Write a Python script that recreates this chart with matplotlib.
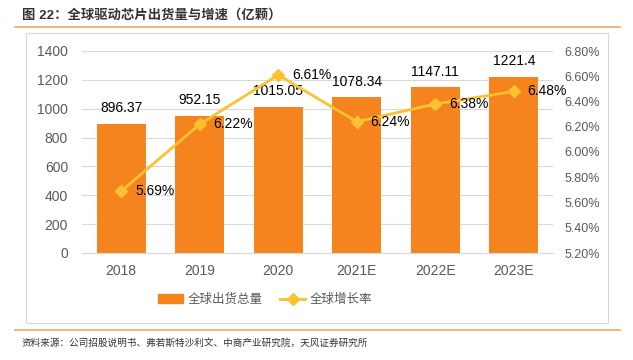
import matplotlib
matplotlib.use("Agg")
import matplotlib.pyplot as plt
from matplotlib.patches import Rectangle
from matplotlib.lines import Line2D

plt.rcParams['font.family'] = ['Liberation Sans', 'Noto Sans CJK SC', 'DejaVu Sans']

categories = ["2018", "2019", "2020", "2021E", "2022E", "2023E"]
shipments = [896.37, 952.15, 1015.05, 1078.34, 1147.11, 1221.4]
shipment_labels = ["896.37", "952.15", "1015.05", "1078.34", "1147.11", "1221.4"]
growth = [5.69, 6.22, 6.61, 6.24, 6.38, 6.48]
left_ticks = [0, 200, 400, 600, 800, 1000, 1200, 1400]
right_ticks = [5.2, 5.4, 5.6, 5.8, 6.0, 6.2, 6.4, 6.6, 6.8]

title = "图 22：全球驱动芯片出货量与增速（亿颗）"
source = "资料来源：公司招股说明书、弗若斯特沙利文、中商产业研究院，天风证券研究所"
bar_name = "全球出货总量"
line_name = "全球增长率"

BAR_C = "#F5841F"
LINE_C = "#FBC12F"
GRAY = "#595959"

fig = plt.figure(figsize=(6.33, 3.6), dpi=100)

# title & decorations
fig.text(22/633, 1-15/360, title, fontsize=9.6, color="#333333", va="center", ha="left", fontweight="bold")
fig.add_artist(Line2D([15/633, 620/633], [1-27/360, 1-27/360], color="#F4A66A", lw=1.2))
fig.add_artist(Rectangle((26/633, 1-323/360), (608-26)/633, (323-33)/360, fill=False,
                         edgecolor="#D9D9D9", lw=0.8, transform=fig.transFigure))
fig.add_artist(Line2D([15/633, 620/633], [1-330/360, 1-330/360], color="#F4A66A", lw=1.2))
fig.text(22/633, 1-343/360, source, fontsize=6.9, color="#333333", va="center", ha="left")

ax = fig.add_axes([82/633, 1-253/360, (553-82)/633, (253-51)/360])
x = list(range(len(categories)))
ax.bar(x, shipments, width=0.62, color=BAR_C, zorder=2, label=bar_name)
ax.set_xlim(-0.5, len(categories)-0.5)
ax.set_ylim(0, 1400)
ax.set_yticks(left_ticks)
ax.set_xticks(x)
ax.set_xticklabels(categories)
ax.tick_params(axis='both', length=0, colors=GRAY, labelsize=10, pad=8)
ax.tick_params(axis='y', pad=10)
ax.grid(axis='y', color="#D9D9D9", lw=0.8, zorder=0)
for s in ["top", "right", "left"]:
    ax.spines[s].set_visible(False)
ax.spines["bottom"].set_color("#D9D9D9")
for xi, v, lab in zip(x, shipments, shipment_labels):
    ax.annotate(lab, (xi, v), xytext=(0, 6), textcoords="offset points",
                ha="center", va="bottom", fontsize=10, color="black")

ax2 = ax.twinx()
ax2.plot(x, growth, color=LINE_C, lw=2, marker="D", markersize=6, zorder=3, label=line_name)
ax2.set_ylim(5.2, 6.8)
ax2.set_yticks(right_ticks)
ax2.set_yticklabels([f"{t:.2f}%" for t in right_ticks])
ax2.tick_params(axis='y', length=0, colors=GRAY, labelsize=9, pad=8)
for s in ["top", "right", "left", "bottom"]:
    ax2.spines[s].set_visible(False)
for xi, v in zip(x, growth):
    ax2.annotate(f"{v:.2f}%", (xi, v), xytext=(10, 0), textcoords="offset points",
                 ha="left", va="center", fontsize=10, color="black")

handles = [Rectangle((0, 0), 1, 1, color=BAR_C),
           Line2D([0], [0], color=LINE_C, lw=2, marker="D", markersize=6)]
fig.legend(handles, [bar_name, line_name], loc="center", bbox_to_anchor=(265/633, 1-300/360),
           ncol=2, frameon=False, fontsize=9, labelcolor=GRAY, handlelength=2.0,
           handletextpad=0.4, columnspacing=1.4)

fig.savefig("out.png", dpi=100)
